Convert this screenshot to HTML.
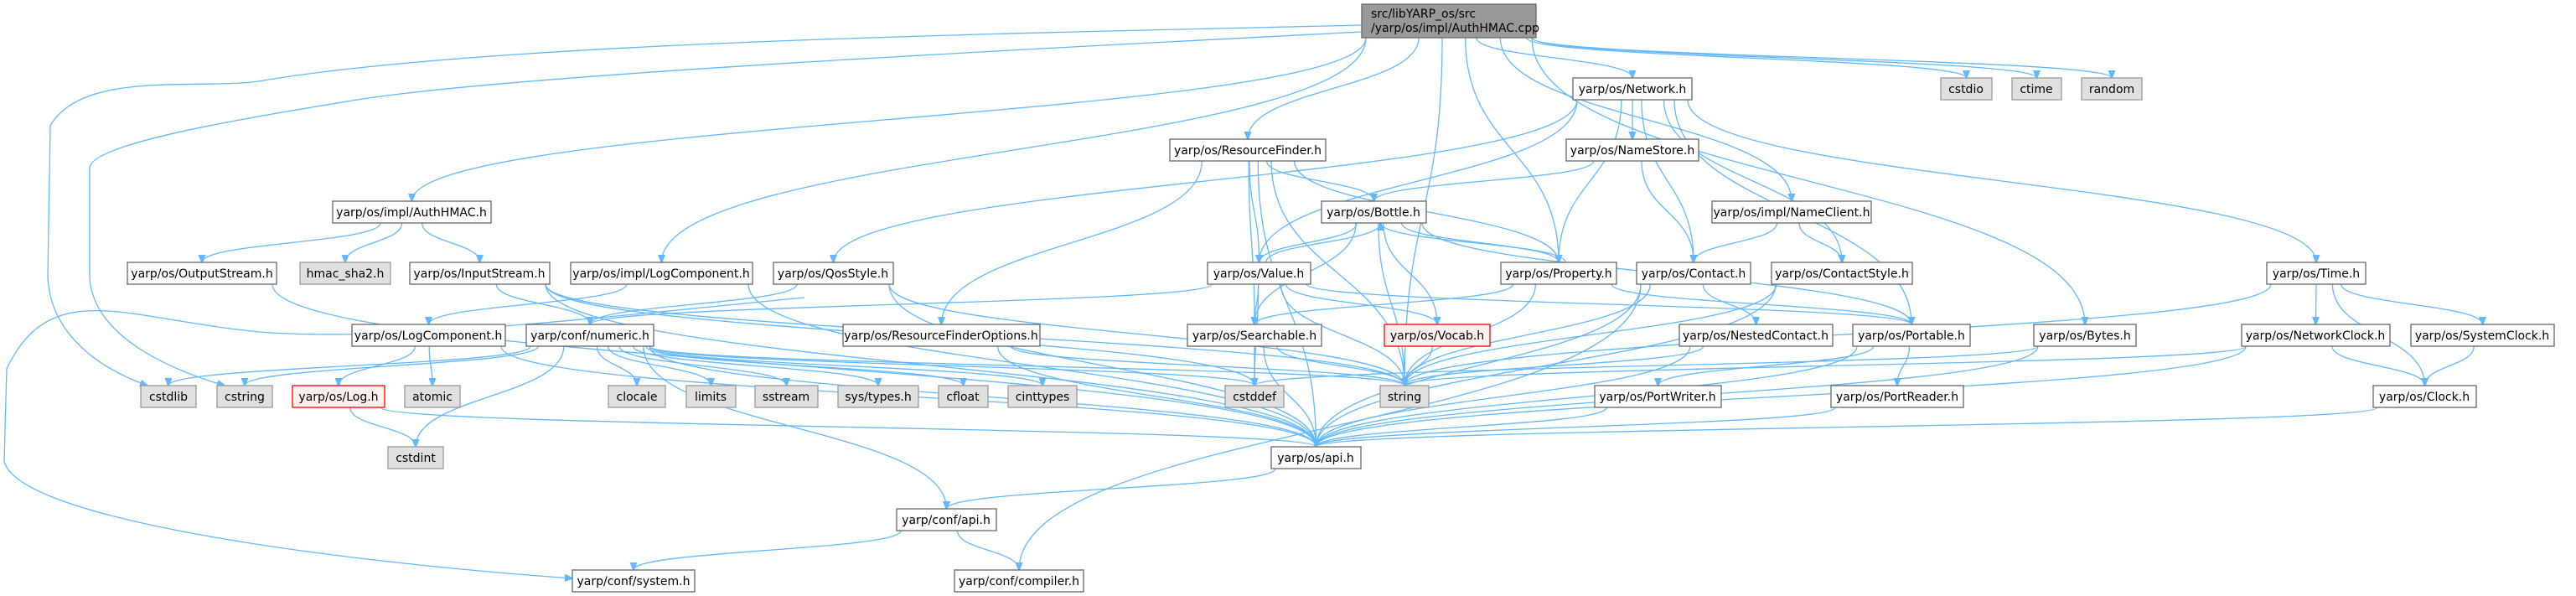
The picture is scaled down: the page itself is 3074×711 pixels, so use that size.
<!DOCTYPE html>
<html><head><meta charset="utf-8"><style>
html,body{margin:0;padding:0;background:#fff;}
svg{display:block;}
text{font-family:"DejaVu Sans","Liberation Sans",sans-serif;font-size:14px;fill:#000;}
.n rect{fill:#fff;stroke:#666;stroke-width:1.3;}
.g rect{fill:#e0e0e0;stroke:#999;stroke-width:1.3;}
.r rect{fill:#fff0f0;stroke:#f00;stroke-width:1.3;}
.d rect{fill:#999;stroke:#666;stroke-width:1.3;}
#edges path{fill:none;stroke:#63b8ff;stroke-width:1.3;}
</style></head><body>
<svg id="s" width="3074" height="711" viewBox="0 0 3074 711" xmlns="http://www.w3.org/2000/svg">
<defs><marker id="a" markerWidth="10" markerHeight="10" refX="9" refY="5" orient="auto" markerUnits="userSpaceOnUse"><path d="M0,1 L10,5 L0,9 z" fill="#63b8ff" stroke="#63b8ff"/></marker></defs>
<g id="edges">
<path d="M1625,30 C1200,40 600,50 320,95 C250,110 100,80 60,150 L57,330 C60,400 120,440 176,460" marker-end="url(#a)"/>
<path d="M1625,38 C1200,60 600,90 420,120 C300,140 110,170 107,200 L107,330 C110,400 200,440 268,460" marker-end="url(#a)"/>
<path d="M960,355 C700,380 450,410 300,395 C150,380 60,330 8,440 L5,550 C20,620 400,670 683,690" marker-end="url(#a)"/>
</g>
<g id="nodes">
<g class="d" id="root"><rect x="1625" y="5" width="208" height="40"/><text x="1636" y="21">src/libYARP_os/src</text><text x="1636" y="38">/yarp/os/impl/AuthHMAC.cpp</text></g>
<g class="n" id="network"><rect x="1877" y="93" width="142" height="26"/><text x="1948" y="111" text-anchor="middle">yarp/os/Network.h</text></g>
<g class="g" id="cstdio"><rect x="2316" y="93" width="61" height="26"/><text x="2346" y="111" text-anchor="middle">cstdio</text></g>
<g class="g" id="ctime"><rect x="2401" y="93" width="59" height="26"/><text x="2430" y="111" text-anchor="middle">ctime</text></g>
<g class="g" id="random"><rect x="2484" y="93" width="72" height="26"/><text x="2520" y="111" text-anchor="middle">random</text></g>
<g class="n" id="rf"><rect x="1396" y="166" width="186" height="26"/><text x="1489" y="184" text-anchor="middle">yarp/os/ResourceFinder.h</text></g>
<g class="n" id="ns"><rect x="1869" y="166" width="158" height="26"/><text x="1948" y="184" text-anchor="middle">yarp/os/NameStore.h</text></g>
<g class="n" id="auth"><rect x="397" y="240" width="189" height="26"/><text x="491" y="258" text-anchor="middle">yarp/os/impl/AuthHMAC.h</text></g>
<g class="n" id="bottle"><rect x="1577" y="240" width="125" height="26"/><text x="1639" y="258" text-anchor="middle">yarp/os/Bottle.h</text></g>
<g class="n" id="nc"><rect x="2043" y="240" width="190" height="26"/><text x="2138" y="258" text-anchor="middle">yarp/os/impl/NameClient.h</text></g>
<g class="n" id="os"><rect x="152" y="313" width="178" height="26"/><text x="241" y="331" text-anchor="middle">yarp/os/OutputStream.h</text></g>
<g class="g" id="hmac"><rect x="358" y="313" width="108" height="26"/><text x="412" y="331" text-anchor="middle">hmac_sha2.h</text></g>
<g class="n" id="is"><rect x="489" y="313" width="167" height="26"/><text x="572" y="331" text-anchor="middle">yarp/os/InputStream.h</text></g>
<g class="n" id="ilc"><rect x="681" y="313" width="217" height="26"/><text x="789" y="331" text-anchor="middle">yarp/os/impl/LogComponent.h</text></g>
<g class="n" id="qos"><rect x="923" y="313" width="143" height="26"/><text x="994" y="331" text-anchor="middle">yarp/os/QosStyle.h</text></g>
<g class="n" id="value"><rect x="1441" y="313" width="123" height="26"/><text x="1502" y="331" text-anchor="middle">yarp/os/Value.h</text></g>
<g class="n" id="prop"><rect x="1791" y="313" width="138" height="26"/><text x="1860" y="331" text-anchor="middle">yarp/os/Property.h</text></g>
<g class="n" id="contact"><rect x="1953" y="313" width="136" height="26"/><text x="2021" y="331" text-anchor="middle">yarp/os/Contact.h</text></g>
<g class="n" id="cs"><rect x="2114" y="313" width="168" height="26"/><text x="2198" y="331" text-anchor="middle">yarp/os/ContactStyle.h</text></g>
<g class="n" id="time"><rect x="2705" y="313" width="118" height="26"/><text x="2764" y="331" text-anchor="middle">yarp/os/Time.h</text></g>
<g class="n" id="lc"><rect x="420" y="387" width="183" height="26"/><text x="511" y="405" text-anchor="middle">yarp/os/LogComponent.h</text></g>
<g class="n" id="num"><rect x="628" y="387" width="152" height="26"/><text x="704" y="405" text-anchor="middle">yarp/conf/numeric.h</text></g>
<g class="n" id="rfo"><rect x="1006" y="387" width="235" height="26"/><text x="1123" y="405" text-anchor="middle">yarp/os/ResourceFinderOptions.h</text></g>
<g class="n" id="search"><rect x="1417" y="387" width="160" height="26"/><text x="1497" y="405" text-anchor="middle">yarp/os/Searchable.h</text></g>
<g class="r" id="vocab"><rect x="1652" y="387" width="126" height="26"/><text x="1715" y="405" text-anchor="middle">yarp/os/Vocab.h</text></g>
<g class="n" id="nest"><rect x="2004" y="387" width="183" height="26"/><text x="2095" y="405" text-anchor="middle">yarp/os/NestedContact.h</text></g>
<g class="n" id="portable"><rect x="2211" y="387" width="140" height="26"/><text x="2281" y="405" text-anchor="middle">yarp/os/Portable.h</text></g>
<g class="n" id="bytes"><rect x="2427" y="387" width="122" height="26"/><text x="2488" y="405" text-anchor="middle">yarp/os/Bytes.h</text></g>
<g class="n" id="nclock"><rect x="2675" y="387" width="177" height="26"/><text x="2763" y="405" text-anchor="middle">yarp/os/NetworkClock.h</text></g>
<g class="n" id="sclock"><rect x="2877" y="387" width="171" height="26"/><text x="2962" y="405" text-anchor="middle">yarp/os/SystemClock.h</text></g>
<g class="g" id="cstdlib"><rect x="168" y="460" width="66" height="26"/><text x="201" y="478" text-anchor="middle">cstdlib</text></g>
<g class="g" id="cstring"><rect x="259" y="460" width="66" height="26"/><text x="292" y="478" text-anchor="middle">cstring</text></g>
<g class="r" id="log"><rect x="349" y="460" width="110" height="26"/><text x="404" y="478" text-anchor="middle">yarp/os/Log.h</text></g>
<g class="g" id="atomic"><rect x="483" y="460" width="66" height="26"/><text x="516" y="478" text-anchor="middle">atomic</text></g>
<g class="g" id="clocale"><rect x="726" y="460" width="68" height="26"/><text x="760" y="478" text-anchor="middle">clocale</text></g>
<g class="g" id="limits"><rect x="819" y="460" width="59" height="26"/><text x="848" y="478" text-anchor="middle">limits</text></g>
<g class="g" id="sstream"><rect x="901" y="460" width="75" height="26"/><text x="938" y="478" text-anchor="middle">sstream</text></g>
<g class="g" id="systypes"><rect x="1000" y="460" width="96" height="26"/><text x="1048" y="478" text-anchor="middle">sys/types.h</text></g>
<g class="g" id="cfloat"><rect x="1120" y="460" width="59" height="26"/><text x="1149" y="478" text-anchor="middle">cfloat</text></g>
<g class="g" id="cinttypes"><rect x="1203" y="460" width="82" height="26"/><text x="1244" y="478" text-anchor="middle">cinttypes</text></g>
<g class="g" id="cstddef"><rect x="1462" y="460" width="70" height="26"/><text x="1497" y="478" text-anchor="middle">cstddef</text></g>
<g class="g" id="string"><rect x="1647" y="460" width="58" height="26"/><text x="1676" y="478" text-anchor="middle">string</text></g>
<g class="n" id="pw"><rect x="1903" y="460" width="151" height="26"/><text x="1978" y="478" text-anchor="middle">yarp/os/PortWriter.h</text></g>
<g class="n" id="pr"><rect x="2185" y="460" width="158" height="26"/><text x="2264" y="478" text-anchor="middle">yarp/os/PortReader.h</text></g>
<g class="n" id="clock"><rect x="2832" y="460" width="123" height="26"/><text x="2893" y="478" text-anchor="middle">yarp/os/Clock.h</text></g>
<g class="g" id="cstdint"><rect x="463" y="533" width="66" height="26"/><text x="496" y="551" text-anchor="middle">cstdint</text></g>
<g class="n" id="api"><rect x="1517" y="533" width="107" height="26"/><text x="1570" y="551" text-anchor="middle">yarp/os/api.h</text></g>
<g class="n" id="capi"><rect x="1070" y="607" width="119" height="26"/><text x="1129" y="625" text-anchor="middle">yarp/conf/api.h</text></g>
<g class="n" id="system"><rect x="683" y="680" width="146" height="26"/><text x="756" y="698" text-anchor="middle">yarp/conf/system.h</text></g>
<g class="n" id="compiler"><rect x="1139" y="680" width="154" height="26"/><text x="1216" y="698" text-anchor="middle">yarp/conf/compiler.h</text></g>
</g>
</svg>
<script>
(function(){
var E={
root:"auth ilc string rf prop network nc bytes cstdio ctime random",
network:"qos value prop ns contact cs portable time",
rf:"rfo value search string bottle prop api",
ns:"bottle contact",
nc:"contact cs",
auth:"os hmac is",
bottle:"value prop search vocab string portable",
value:"bottle num search vocab string cstddef portable",
prop:"bottle search string portable",
contact:"nest string api compiler",
cs:"string api",
qos:"num string api",
ilc:"lc api",
is:"num api cstddef string",
os:"api",
lc:"log atomic api",
num:"cstdlib cstring cstdint clocale limits sstream systypes cfloat cinttypes cstddef string api capi",
search:"cstddef string api",
vocab:"string",
portable:"pr pw api",
nest:"string api",
rfo:"string api",
log:"cstdint api",
pw:"api",pr:"api",
bytes:"cstddef api",
time:"nclock sclock clock string",
nclock:"clock api string",
sclock:"clock",
clock:"api",
api:"capi",
capi:"system compiler"
};
function box(id){var r=document.querySelector('#'+id+' rect');return{x:+r.getAttribute('x'),y:+r.getAttribute('y'),w:+r.getAttribute('width'),h:+r.getAttribute('height')};}
var g=document.getElementById('edges'),ns="http://www.w3.org/2000/svg";
for(var s in E){var a=box(s);E[s].split(' ').forEach(function(t){var b=box(t),d;
var sx=a.x+a.w/2,tx=b.x+b.w/2;
if(b.y>a.y+5){var sy=a.y+a.h,ty=b.y,m=(ty-sy)*0.5;
sx=a.x+a.w/2+Math.max(-a.w/2+5,Math.min(a.w/2-5,(tx-sx)*0.15));
d="M"+sx+","+sy+" C"+sx+","+(sy+m)+" "+tx+","+(ty-m)+" "+tx+","+ty;}
else if(b.y<a.y-5){var sy=a.y,ty=b.y+b.h,m=(sy-ty)*0.5;sx+=8;tx+=8;
d="M"+sx+","+sy+" C"+sx+","+(sy-m)+" "+tx+","+(ty+m)+" "+tx+","+ty;}
else{var sy=a.y+a.h/2;d="M"+(a.x+a.w)+","+sy+" L"+b.x+","+sy;}
var p=document.createElementNS(ns,'path');p.setAttribute('d',d);p.setAttribute('marker-end','url(#a)');g.appendChild(p);});}
})();
</script>
</body></html>
